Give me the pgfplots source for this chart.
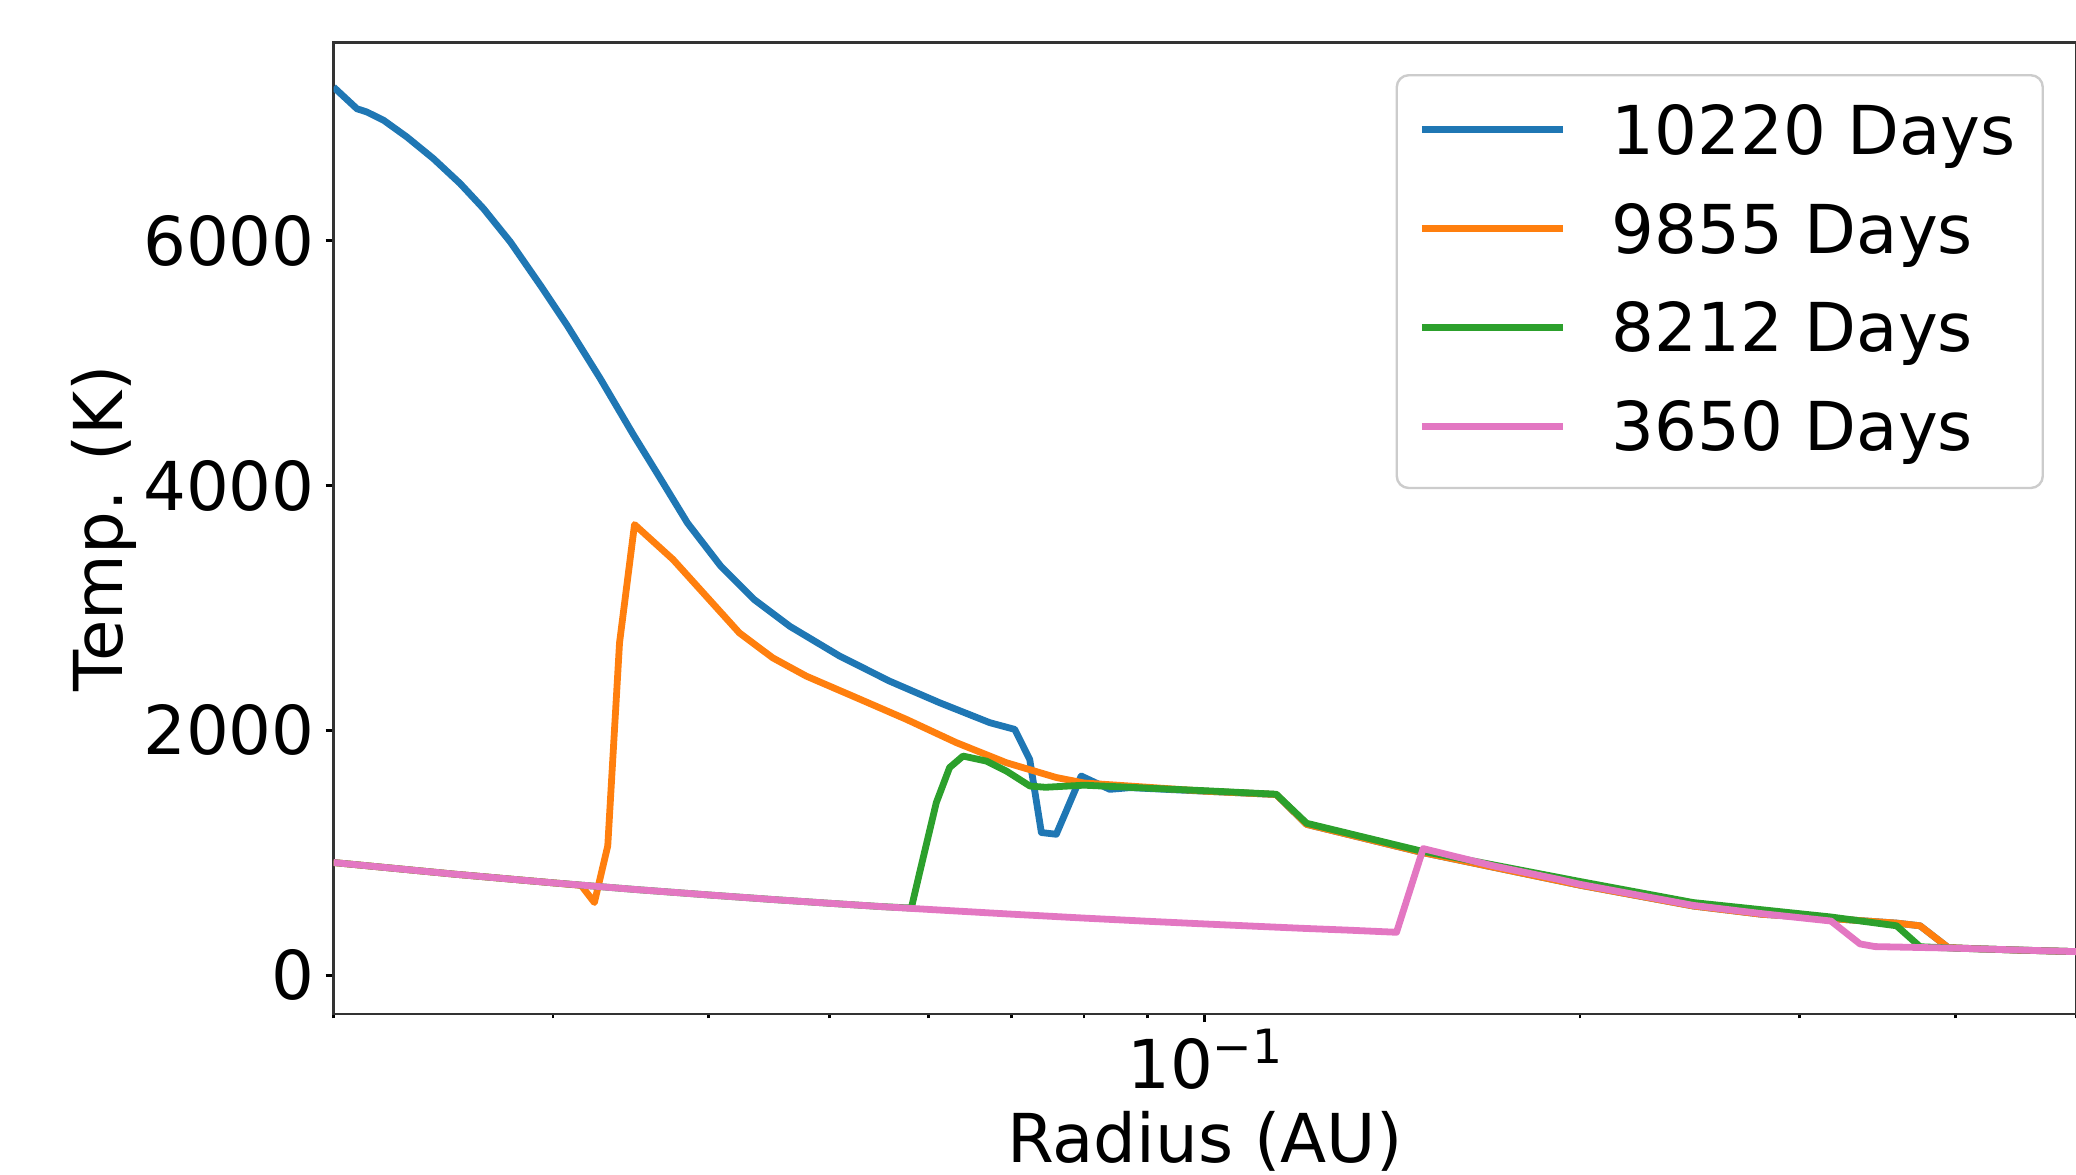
\documentclass[border=0pt]{standalone}
\usepackage{fontspec}
\setmainfont{DejaVu Sans}
\usepackage{pgfplots}
\pgfplotsset{compat=1.18}
\definecolor{tabblue}{HTML}{1F77B4}
\definecolor{taborange}{HTML}{FF7F0E}
\definecolor{tabgreen}{HTML}{2CA02C}
\definecolor{tabpink}{HTML}{E377C2}
\newcommand{\fsz}{\fontsize{16.85}{20.2}\selectfont}
\begin{document}
\fsz
\begin{tikzpicture}
\begin{axis}[
  name=ax, at={(0,0)}, anchor=south west,
  scale only axis, width=435.6pt, height=242.9pt,
  xmode=log, xmin=0.02, xmax=0.5,
  ymin=-318, ymax=7622,
  xtick={0.1}, xticklabels={10\raisebox{6.3pt}{\fontsize{11.8}{12}\selectfont −1}},
  minor xtick={0.02,0.03,0.04,0.05,0.06,0.07,0.08,0.09,0.2,0.3,0.4,0.5},
  ytick={0,2000,4000,6000},
  scaled y ticks=false,
  /pgf/number format/1000 sep={},
  /pgf/number format/assume math mode=true,
  xtick pos=left, ytick pos=left,
  tick align=outside,
  major tick length=2pt, minor tick length=1.1pt,
  tick style={line width=0.7pt, black},
  axis line style={line width=0.7pt, black!80},
  tick label style={font=\fsz, inner sep=0pt},
  yticklabel style={anchor=east, xshift=-2.5pt},
  xticklabel style={anchor=base, yshift=-16.7pt},
  label style={font=\fsz},
  xlabel={Radius (AU)}, ylabel={Temp. (K)},
  xlabel style={at={(axis description cs:0.5,-0.1523)}, anchor=base},
  ylabel style={at={(axis description cs:-0.1211,0.5)}, anchor=base},
  every axis plot/.append style={line width=1.7pt, line join=round},
  legend image code/.code={\draw[#1, overlay] (-1.3pt,0pt) -- (34.1pt,0pt); \path (0pt,-7.14pt) (45.4pt,0pt);},
  legend style={at={(rel axis cs:1,1)}, anchor=north east, xshift=-8pt, yshift=-7.9pt,
    draw=black!20, line width=0.6pt, rounded corners=3pt, fill=white, fill opacity=0.8, text opacity=1, draw opacity=1,
    font=\fsz, inner xsep=6.7pt, inner ysep=7.44pt, row sep=10.6pt,
    nodes={inner sep=0pt, text height=12.28pt, text depth=0pt}, cells={anchor=west}},
]
% 10220 Days
\addplot[tabblue] coordinates {
(0.02,7257) (0.02088,7080) (0.02127,7053) (0.02194,6985) (0.0229,6849) (0.02405,6672)
(0.02527,6468) (0.02638,6264) (0.02772,5992) (0.0293,5638) (0.03078,5312) (0.03273,4876)
(0.03481,4414) (0.03652,4070) (0.03846,3695) (0.0409,3341) (0.0435,3069) (0.04645,2851)
(0.05094,2607) (0.05587,2402) (0.06127,2226) (0.06722,2063) (0.0704,2008) (0.07237,1763)
(0.07395,1165) (0.07602,1151) (0.0796,1627) (0.0839,1518) (0.0871,1532) (0.1,1503) (0.1141,1476)
(0.1207,1232) (0.149,1005) (0.2,735) (0.2465,565) (0.28,497) (0.318,462) (0.359,425)
(0.3749,403) (0.3949,225) (0.42,214) (0.45,204) (0.5,192)
};
\addlegendentry{10220 Days}
% 9855 Days
\addplot[taborange] coordinates {
(0.02,920) (0.025,825) (0.03,754) (0.0316,733) (0.03238,593) (0.03319,1056) (0.03392,2716)
(0.03487,3682) (0.03745,3396) (0.03982,3096) (0.04232,2797) (0.04501,2593) (0.0479,2443)
(0.05254,2267) (0.05762,2090) (0.06319,1900) (0.0693,1736) (0.07601,1615) (0.08,1570)
(0.0871,1545) (0.1,1503) (0.1141,1476) (0.1207,1232) (0.149,1005) (0.2,735) (0.2465,565)
(0.28,497) (0.318,462) (0.359,425) (0.3749,403) (0.3949,225) (0.42,214) (0.45,204) (0.5,192)
};
\addlegendentry{9855 Days}
% 8212 Days
\addplot[tabgreen] coordinates {
(0.02,920) (0.025,825) (0.03,754) (0.035,699) (0.04,655) (0.045,618) (0.05,587) (0.055,560)
(0.05815,548) (0.05905,838) (0.0609,1410) (0.06241,1696) (0.06398,1790) (0.06681,1749)
(0.06931,1668) (0.0724,1545) (0.0745,1535) (0.08,1552) (0.09,1528) (0.1,1507) (0.1141,1478)
(0.1207,1241) (0.149,1015) (0.2,765) (0.2465,593) (0.318,475) (0.359,403) (0.3749,232)
(0.4,220) (0.45,205) (0.5,192)
};
\addlegendentry{8212 Days}
% 3650 Days
\addplot[tabpink] coordinates {
(0.02,920) (0.025,825) (0.03,754) (0.035,699) (0.04,655) (0.045,618) (0.05,587) (0.055,560)
(0.06,537) (0.07,498) (0.08,466) (0.09,440) (0.1,418) (0.11,399) (0.12,382) (0.13,368)
(0.1425,350) (0.1497,1034) (0.17,895) (0.1927,780) (0.2,742) (0.2465,570) (0.28,502)
(0.318,442) (0.3355,255) (0.345,233) (0.4,220) (0.45,205) (0.5,192)
};
\addlegendentry{3650 Days}
\end{axis}
\pgfresetboundingbox
\path[use as bounding box] ([xshift=-83.4pt,yshift=-40pt]ax.south west) rectangle ([yshift=10.6pt]ax.north east);
\end{tikzpicture}
\end{document}
